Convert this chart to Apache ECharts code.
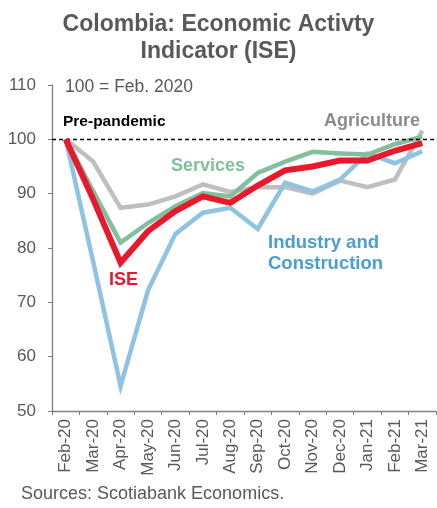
<!DOCTYPE html>
<html lang="en">
<head>
<meta charset="UTF-8">
<title>Colombia ISE</title>
<script src="https://cdn.jsdelivr.net/npm/echarts@6/dist/echarts.min.js"></script>
<style>
  html, body { margin: 0; padding: 0; background: #fff; }
  #main { width: 437px; height: 508px; }
</style>
</head>
<body>
<div id="main"></div>
<script>
// data (index, 100 = Feb. 2020)
var months = ['Feb-20', 'Mar-20', 'Apr-20', 'May-20', 'Jun-20', 'Jul-20', 'Aug-20',
              'Sep-20', 'Oct-20', 'Nov-20', 'Dec-20', 'Jan-21', 'Feb-21', 'Mar-21'];
var agriculture = [100, 95.9, 87.4, 88.0, 89.5, 91.7, 90.3, 91.2, 91.2, 90.0, 92.4, 91.2, 92.6, 101.6];
var industry    = [100, 77.5, 54.6, 72.2, 82.6, 86.5, 87.4, 83.5, 92.0, 90.4, 92.6, 97.4, 95.6, 97.8];
var services    = [100, 90.5, 81.0, 84.6, 87.7, 90.1, 89.5, 93.8, 95.9, 97.7, 97.4, 97.2, 99.1, 100.5];
var ise         = [100, 89.0, 77.3, 83.1, 86.8, 89.5, 88.3, 91.5, 94.3, 95.0, 96.1, 96.1, 97.9, 99.3];
var yTicks = { min: 50, max: 110, step: 10 };

var font = 'Liberation Sans, Arial, sans-serif';
var chart = echarts.init(document.getElementById('main'));

function line(name, data, color, width, z) {
  return {
    name: name, type: 'line', data: data, symbol: 'none', z: z,
    lineStyle: { color: color, width: width, join: 'miter' },
    itemStyle: { color: color }
  };
}

var ser = [
  line('Agriculture', agriculture, '#bfbfbf', 4.5, 2),
  line('Industry and Construction', industry, '#8ec3e3', 4.5, 3),
  line('Services', services, '#82bf9c', 4.5, 4),
  line('ISE', ise, '#e8192c', 6, 5)
];
// pre-pandemic reference line
ser[0].markLine = {
  silent: true, symbol: 'none', label: { show: false },
  lineStyle: { color: '#000', type: [4, 3], width: 1.3 },
  data: [{ yAxis: 100 }]
};

chart.setOption({
  animation: false,
  textStyle: { fontFamily: font },
  title: {
    text: 'Colombia: Economic Activty\nIndicator (ISE)',
    left: 'center', top: 6,
    textStyle: { fontFamily: font, fontSize: 23, fontWeight: 'bold', color: '#595959', lineHeight: 27 }
  },
  grid: { left: 52, right: 1, top: 85, bottom: 97, containLabel: false },
  xAxis: {
    type: 'category', data: months, boundaryGap: true,
    axisLine: { lineStyle: { color: '#7f7f7f', width: 1.3 } },
    axisTick: { show: true, length: 4, lineStyle: { color: '#7f7f7f' } },
    axisLabel: { rotate: 90, color: '#595959', fontSize: 17, margin: 8, interval: 0 }
  },
  yAxis: {
    type: 'value', min: yTicks.min, max: yTicks.max, interval: yTicks.step,
    splitLine: { show: false },
    axisLine: { show: true, lineStyle: { color: '#7f7f7f', width: 1.3 } },
    axisTick: { show: true, length: 4, lineStyle: { color: '#7f7f7f' } },
    axisLabel: { color: '#595959', fontSize: 17, margin: 16 }
  },
  series: ser,
  graphic: [
    { type: 'text', left: 65, top: 78, style: { text: '100 = Feb. 2020', font: '17.5px ' + font, fill: '#595959' } },
    { type: 'text', left: 63, top: 114, style: { text: 'Pre-pandemic', font: 'bold 15.5px ' + font, fill: '#000' } },
    { type: 'text', left: 324, top: 112, style: { text: 'Agriculture', font: 'bold 18px ' + font, fill: '#8c8c8c' } },
    { type: 'text', left: 171, top: 157, style: { text: 'Services', font: 'bold 18px ' + font, fill: '#82bf9c' } },
    { type: 'text', left: 109, top: 271, style: { text: 'ISE', font: 'bold 18px ' + font, fill: '#e8192c' } },
    { type: 'text', left: 268, top: 232, style: { text: 'Industry and\nConstruction', font: 'bold 18.5px ' + font, fill: '#4a9ed4', align: 'center', lineHeight: 21 } },
    { type: 'text', left: 21, top: 485, style: { text: 'Sources: Scotiabank Economics.', font: '18px ' + font, fill: '#595959' } }
  ]
});
</script>
</body>
</html>
